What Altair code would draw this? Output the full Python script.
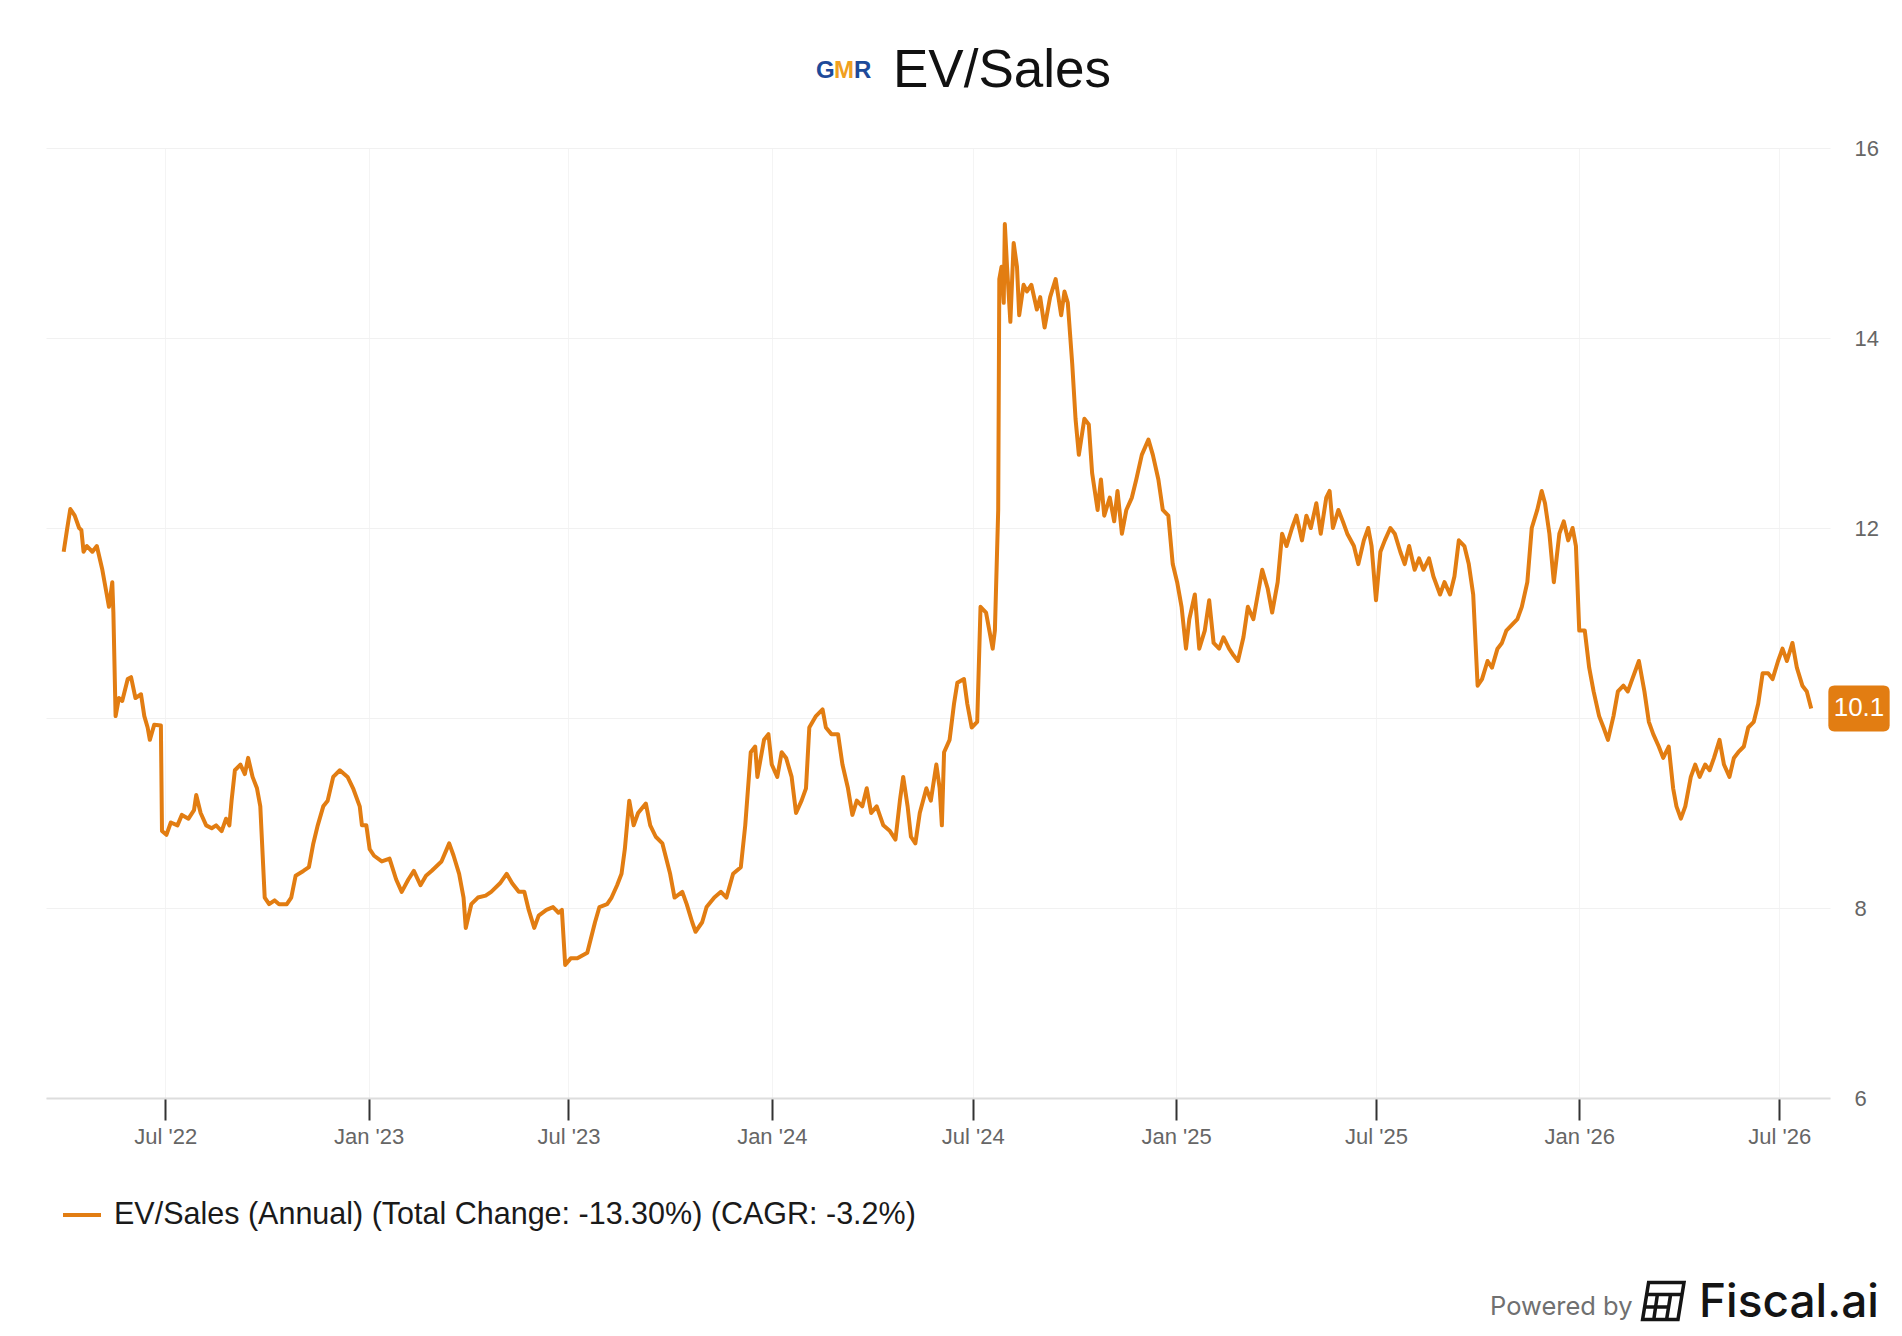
import altair as alt
import pandas as pd

# ---------------- data ----------------
dates = [
    "2022-03-31", "2022-04-03", "2022-04-06", "2022-04-10", "2022-04-14", "2022-04-16", "2022-04-18", "2022-04-21",
    "2022-04-26", "2022-04-30", "2022-05-05", "2022-05-09", "2022-05-11", "2022-05-14", "2022-05-15", "2022-05-17",
    "2022-05-20", "2022-05-23", "2022-05-28", "2022-05-31", "2022-06-04", "2022-06-09", "2022-06-12", "2022-06-15",
    "2022-06-17", "2022-06-21", "2022-06-27", "2022-06-28", "2022-07-02", "2022-07-06", "2022-07-12", "2022-07-16",
    "2022-07-22", "2022-07-27", "2022-07-29", "2022-08-02", "2022-08-07", "2022-08-12", "2022-08-16", "2022-08-21",
    "2022-08-25", "2022-08-28", "2022-08-30", "2022-09-02", "2022-09-07", "2022-09-11", "2022-09-14", "2022-09-18",
    "2022-09-22", "2022-09-25", "2022-09-29", "2022-10-03", "2022-10-08", "2022-10-12", "2022-10-19", "2022-10-23",
    "2022-10-27", "2022-11-03", "2022-11-08", "2022-11-12", "2022-11-16", "2022-11-21", "2022-11-25", "2022-11-30",
    "2022-12-06", "2022-12-13", "2022-12-18", "2022-12-24", "2022-12-26", "2022-12-30", "2023-01-02", "2023-01-06",
    "2023-01-13", "2023-01-20", "2023-01-26", "2023-01-31", "2023-02-06", "2023-02-11", "2023-02-17", "2023-02-22",
    "2023-02-27", "2023-03-08", "2023-03-15", "2023-03-19", "2023-03-24", "2023-03-28", "2023-03-30", "2023-04-04",
    "2023-04-10", "2023-04-17", "2023-04-22", "2023-04-30", "2023-05-06", "2023-05-11", "2023-05-17", "2023-05-22",
    "2023-05-26", "2023-05-31", "2023-06-04", "2023-06-11", "2023-06-17", "2023-06-22", "2023-06-25", "2023-06-28",
    "2023-07-03", "2023-07-09", "2023-07-18", "2023-07-25", "2023-07-29", "2023-08-05", "2023-08-09", "2023-08-14",
    "2023-08-18", "2023-08-21", "2023-08-25", "2023-08-29", "2023-09-02", "2023-09-09", "2023-09-13", "2023-09-18",
    "2023-09-24", "2023-10-01", "2023-10-05", "2023-10-12", "2023-10-16", "2023-10-21", "2023-10-24", "2023-10-30",
    "2023-11-03", "2023-11-10", "2023-11-16", "2023-11-21", "2023-11-27", "2023-12-04", "2023-12-08", "2023-12-13",
    "2023-12-17", "2023-12-19", "2023-12-25", "2023-12-29", "2024-01-01", "2024-01-06", "2024-01-10", "2024-01-14",
    "2024-01-19", "2024-01-23", "2024-01-28", "2024-02-01", "2024-02-04", "2024-02-10", "2024-02-16", "2024-02-19",
    "2024-02-24", "2024-03-01", "2024-03-05", "2024-03-10", "2024-03-14", "2024-03-18", "2024-03-23", "2024-03-27",
    "2024-03-31", "2024-04-05", "2024-04-11", "2024-04-17", "2024-04-22", "2024-04-26", "2024-04-29", "2024-05-03",
    "2024-05-06", "2024-05-10", "2024-05-14", "2024-05-20", "2024-05-24", "2024-05-29", "2024-06-01", "2024-06-03",
    "2024-06-05", "2024-06-10", "2024-06-14", "2024-06-17", "2024-06-23", "2024-06-26", "2024-06-30", "2024-07-05",
    "2024-07-08", "2024-07-13", "2024-07-16", "2024-07-19", "2024-07-21", "2024-07-24", "2024-07-25", "2024-07-27",
    "2024-07-29", "2024-07-30", "2024-08-01", "2024-08-04", "2024-08-07", "2024-08-10", "2024-08-12", "2024-08-16",
    "2024-08-19", "2024-08-23", "2024-08-28", "2024-08-31", "2024-09-04", "2024-09-09", "2024-09-14", "2024-09-19",
    "2024-09-22", "2024-09-25", "2024-09-29", "2024-10-02", "2024-10-05", "2024-10-10", "2024-10-14", "2024-10-17",
    "2024-10-22", "2024-10-25", "2024-10-28", "2024-11-02", "2024-11-06", "2024-11-09", "2024-11-13", "2024-11-17",
    "2024-11-22", "2024-11-26", "2024-12-01", "2024-12-07", "2024-12-11", "2024-12-16", "2024-12-20", "2024-12-25",
    "2024-12-29", "2025-01-02", "2025-01-06", "2025-01-10", "2025-01-13", "2025-01-18", "2025-01-22", "2025-01-27",
    "2025-01-31", "2025-02-04", "2025-02-09", "2025-02-13", "2025-02-18", "2025-02-22", "2025-02-26", "2025-03-03",
    "2025-03-07", "2025-03-12", "2025-03-16", "2025-03-20", "2025-03-25", "2025-03-29", "2025-04-03", "2025-04-07",
    "2025-04-11", "2025-04-16", "2025-04-20", "2025-04-25", "2025-04-29", "2025-05-03", "2025-05-08", "2025-05-12",
    "2025-05-17", "2025-05-20", "2025-05-23", "2025-05-28", "2025-06-01", "2025-06-05", "2025-06-11", "2025-06-15",
    "2025-06-20", "2025-06-24", "2025-06-27", "2025-07-01", "2025-07-05", "2025-07-09", "2025-07-14", "2025-07-18",
    "2025-07-23", "2025-07-27", "2025-07-31", "2025-08-05", "2025-08-09", "2025-08-13", "2025-08-18", "2025-08-22",
    "2025-08-28", "2025-09-01", "2025-09-06", "2025-09-10", "2025-09-14", "2025-09-19", "2025-09-23", "2025-09-27",
    "2025-10-01", "2025-10-05", "2025-10-10", "2025-10-14", "2025-10-19", "2025-10-23", "2025-10-27", "2025-11-01",
    "2025-11-06", "2025-11-10", "2025-11-15", "2025-11-19", "2025-11-24", "2025-11-28", "2025-12-01", "2025-12-05",
    "2025-12-09", "2025-12-14", "2025-12-18", "2025-12-22", "2025-12-26", "2025-12-29", "2026-01-01", "2026-01-06",
    "2026-01-10", "2026-01-14", "2026-01-19", "2026-01-23", "2026-01-27", "2026-02-01", "2026-02-05", "2026-02-10",
    "2026-02-14", "2026-02-18", "2026-02-24", "2026-03-01", "2026-03-05", "2026-03-09", "2026-03-14", "2026-03-18",
    "2026-03-23", "2026-03-27", "2026-03-30", "2026-04-03", "2026-04-07", "2026-04-12", "2026-04-16", "2026-04-20",
    "2026-04-25", "2026-04-29", "2026-05-03", "2026-05-08", "2026-05-12", "2026-05-17", "2026-05-21", "2026-05-25",
    "2026-05-30", "2026-06-03", "2026-06-08", "2026-06-12", "2026-06-16", "2026-06-21", "2026-06-25", "2026-06-30",
    "2026-07-04", "2026-07-08", "2026-07-13", "2026-07-17", "2026-07-22", "2026-07-26", "2026-07-30",
]

values = [
    11.75, 11.98, 12.20, 12.13, 12.00, 11.98, 11.75, 11.81,
    11.75, 11.81, 11.56, 11.30, 11.17, 11.43, 11.11, 10.02,
    10.21, 10.18, 10.41, 10.43, 10.21, 10.25, 10.02, 9.90,
    9.77, 9.93, 9.92, 8.81, 8.77, 8.90, 8.87, 8.98,
    8.94, 9.03, 9.19, 9.00, 8.87, 8.84, 8.87, 8.81,
    8.94, 8.87, 9.13, 9.45, 9.51, 9.41, 9.58, 9.38,
    9.26, 9.07, 8.11, 8.04, 8.08, 8.04, 8.04, 8.11,
    8.34, 8.39, 8.43, 8.68, 8.87, 9.07, 9.13, 9.38,
    9.45, 9.38, 9.26, 9.07, 8.87, 8.87, 8.62, 8.55,
    8.49, 8.52, 8.30, 8.17, 8.30, 8.39, 8.24, 8.34,
    8.39, 8.49, 8.68, 8.55, 8.36, 8.11, 7.79, 8.04,
    8.11, 8.13, 8.17, 8.26, 8.36, 8.26, 8.17, 8.17,
    7.98, 7.79, 7.92, 7.98, 8.01, 7.95, 7.98, 7.40,
    7.47, 7.47, 7.53, 7.85, 8.01, 8.04, 8.11, 8.24,
    8.36, 8.62, 9.13, 8.87, 9.00, 9.10, 8.87, 8.75,
    8.68, 8.36, 8.11, 8.17, 8.04, 7.85, 7.75, 7.85,
    8.01, 8.11, 8.17, 8.11, 8.36, 8.43, 8.87, 9.64,
    9.70, 9.38, 9.77, 9.83, 9.51, 9.38, 9.64, 9.58,
    9.38, 9.00, 9.13, 9.26, 9.90, 10.02, 10.09, 9.90,
    9.83, 9.83, 9.51, 9.26, 8.98, 9.13, 9.07, 9.26,
    9.00, 9.07, 8.87, 8.81, 8.72, 9.13, 9.38, 9.07,
    8.75, 8.68, 9.00, 9.26, 9.13, 9.51, 9.26, 8.87,
    9.64, 9.77, 10.15, 10.37, 10.41, 10.15, 9.90, 9.96,
    11.17, 11.11, 10.92, 10.73, 10.92, 12.19, 14.62, 14.75,
    14.37, 15.20, 14.75, 14.17, 15.00, 14.75, 14.24, 14.56,
    14.49, 14.56, 14.30, 14.43, 14.11, 14.43, 14.62, 14.24,
    14.49, 14.37, 13.73, 13.15, 12.77, 13.15, 13.09, 12.58,
    12.19, 12.51, 12.13, 12.32, 12.07, 12.39, 11.94, 12.19,
    12.32, 12.51, 12.77, 12.93, 12.77, 12.51, 12.19, 12.13,
    11.62, 11.43, 11.17, 10.73, 11.04, 11.30, 10.73, 10.92,
    11.24, 10.79, 10.73, 10.85, 10.73, 10.66, 10.60, 10.85,
    11.17, 11.04, 11.30, 11.56, 11.36, 11.11, 11.43, 11.94,
    11.81, 12.00, 12.13, 11.87, 12.13, 12.00, 12.26, 11.94,
    12.32, 12.39, 12.00, 12.19, 12.07, 11.94, 11.81, 11.62,
    11.87, 12.00, 11.81, 11.24, 11.75, 11.87, 12.00, 11.94,
    11.75, 11.62, 11.81, 11.56, 11.68, 11.56, 11.68, 11.49,
    11.30, 11.43, 11.30, 11.49, 11.87, 11.81, 11.62, 11.30,
    10.34, 10.41, 10.60, 10.53, 10.73, 10.79, 10.92, 10.98,
    11.04, 11.17, 11.43, 12.00, 12.19, 12.39, 12.26, 11.94,
    11.43, 11.94, 12.07, 11.87, 12.00, 11.81, 10.92, 10.92,
    10.53, 10.28, 10.02, 9.90, 9.77, 10.02, 10.28, 10.34,
    10.28, 10.41, 10.60, 10.28, 9.96, 9.83, 9.70, 9.58,
    9.70, 9.26, 9.07, 8.94, 9.07, 9.38, 9.51, 9.38,
    9.51, 9.45, 9.58, 9.77, 9.51, 9.38, 9.58, 9.64,
    9.70, 9.90, 9.96, 10.15, 10.47, 10.47, 10.41, 10.60,
    10.73, 10.60, 10.79, 10.53, 10.34, 10.28, 10.10,
]

series_name = "EV/Sales (Annual) (Total Change: -13.30%) (CAGR: -3.2%)"
y_ticks = [6, 8, 10, 12, 14, 16]
x_tick_months = [(2022, 7), (2023, 1), (2023, 7), (2024, 1), (2024, 7),
                 (2025, 1), (2025, 7), (2026, 1), (2026, 7)]

# ---------------- styling ----------------
ORANGE = "#E27D12"
FONT = "Liberation Sans"
W, H = 1784, 950

n = min(len(dates), len(values))
df = pd.DataFrame({"date": dates[:n], "value": values[:n], "series": [series_name] * n})
last = df.iloc[[-1]].copy()

x_scale = alt.Scale(domain=[alt.DateTime(year=2022, month=3, date=15),
                            alt.DateTime(year=2026, month=8, date=16)])
y_scale = alt.Scale(domain=[6, 16], nice=False, zero=False)

x_axis = alt.Axis(
    values=[alt.DateTime(year=y, month=m, date=1) for y, m in x_tick_months],
    format="%b '%y", labelFont=FONT, labelFontSize=22, labelColor="#666666",
    labelPadding=6, ticks=True, tickColor="#333333", tickSize=22, tickWidth=2,
    domain=True, domainColor="#dddddd", domainWidth=2,
    grid=True, gridColor="#f4f4f4", gridWidth=1, title=None,
)
y_axis = alt.Axis(
    orient="right", values=y_ticks, format="d",
    labelExpr="datum.value == 10 ? '' : datum.label",
    labelFont=FONT, labelFontSize=22,
    labelColor="#666666", labelPadding=24, ticks=False, domain=False,
    grid=True, gridColor="#f1f1f1", gridWidth=1, title=None,
)

line = alt.Chart(df).mark_line(strokeWidth=4, strokeJoin="round").encode(
    x=alt.X("date:T", scale=x_scale, axis=x_axis),
    y=alt.Y("value:Q", scale=y_scale, axis=y_axis),
    color=alt.Color(
        "series:N", scale=alt.Scale(range=[ORANGE]),
        legend=alt.Legend(
            orient="none", legendX=15, legendY=1046, title=None,
            symbolType="stroke", symbolSize=1444, symbolStrokeWidth=4,
            labelFont=FONT, labelFontSize=30.5, labelColor="#1a1a1a",
            labelOffset=11, padding=0, labelLimit=2000,
        ),
    ),
)

TAG_PATH = ("M-1.066,-1 L1.066,-1 Q1.333,-1 1.333,-0.733 L1.333,0.733 "
            "Q1.333,1 1.066,1 L-1.066,1 Q-1.333,1 -1.333,0.733 "
            "L-1.333,-0.733 Q-1.333,-1 -1.066,-1 Z")

tag = alt.Chart(last).mark_point(
    shape=TAG_PATH, size=2116, filled=True, opacity=1, color=ORANGE, strokeWidth=0
).encode(x=alt.value(W + 29), y=alt.Y("value:Q", scale=y_scale))

tag_text = alt.Chart(last).mark_text(
    color="white", font=FONT, fontSize=26, align="center", baseline="middle", dy=-1
).encode(x=alt.value(W + 29), y=alt.Y("value:Q", scale=y_scale),
         text=alt.Text("value:Q", format=".1f"))

one = pd.DataFrame({"k": [0]})

title = alt.Chart(one).mark_text(
    text="EV/Sales", font=FONT, fontSize=53, color="#111111", align="left", baseline="alphabetic"
).encode(x=alt.value(847), y=alt.value(-61))

logo_g = alt.Chart(one).mark_text(
    text="G", font=FONT, fontSize=24, fontWeight="bold", color="#1d4a9a", align="left", baseline="alphabetic"
).encode(x=alt.value(770), y=alt.value(-70))
logo_m = alt.Chart(one).mark_text(
    text="M", font=FONT, fontSize=24, fontWeight="bold", color="#f0a020", align="left", baseline="alphabetic"
).encode(x=alt.value(788), y=alt.value(-70))
logo_r = alt.Chart(one).mark_text(
    text="R", font=FONT, fontSize=24, fontWeight="bold", color="#1d4a9a", align="left", baseline="alphabetic"
).encode(x=alt.value(808), y=alt.value(-70))

powered = alt.Chart(one).mark_text(
    text="Powered by", font="Inter", fontSize=25.5, color="#707070", align="left", baseline="alphabetic"
).encode(x=alt.value(1444), y=alt.value(1167))

ICON_PATH = ("M-0.72,-0.92 L1.05,-0.92 L0.75,0.92 L-1.02,0.92 Z "
             "M-0.82,-0.32 L0.95,-0.32 "
             "M-0.28,-0.32 L-0.46,0.92 "
             "M0.38,-0.32 L0.18,0.92 "
             "M-0.93,0.30 L0.28,0.30")

icon = alt.Chart(one).mark_point(
    shape=ICON_PATH, size=1600, filled=False, color="#141414", strokeWidth=3.5, opacity=1
).encode(x=alt.value(1617), y=alt.value(1153))

fiscal = alt.Chart(one).mark_text(
    text="Fiscal.ai", font="Inter", fontSize=46, fontWeight=500, color="#141414", align="left", baseline="alphabetic"
).encode(x=alt.value(1653), y=alt.value(1169))

chart = alt.layer(line, tag, tag_text, title, logo_g, logo_m, logo_r, powered, icon, fiscal).properties(
    width=W, height=H,
    autosize=alt.AutoSizeParams(type="none"),
    padding={"left": 38, "top": 140, "right": 62, "bottom": 236},
    background="white",
).configure_view(stroke=None)

chart.save("out.html", embed_options={"renderer": "svg", "actions": False})
